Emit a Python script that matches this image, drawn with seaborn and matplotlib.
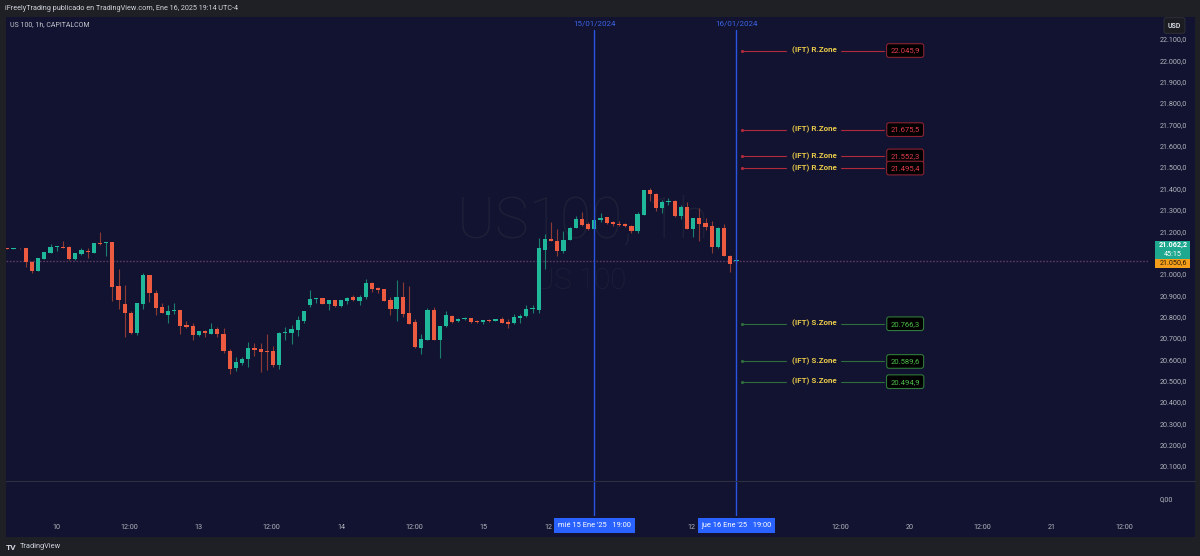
import numpy as np
import pandas as pd
import seaborn as sns
import matplotlib.pyplot as plt
import matplotlib.transforms as mtransforms
from matplotlib.patches import FancyBboxPatch
from matplotlib.lines import Line2D

# --- datos (US 100, 1h) ---
opens = [21121, 21118, 21121, 21121, 21057, 21015, 21071, 21099, 21126, 21127,
         21127, 21068, 21091, 21109, 21099, 21143, 21143, 21148, 20943, 20857,
         20817, 20725, 20857, 20993, 20910, 20843, 20809, 20826, 20829, 20760,
         20757, 20714, 20734, 20720, 20742, 20718, 20640, 20557, 20584, 20600,
         20654, 20647, 20639, 20639, 20572, 20723, 20725, 20737, 20781, 20852,
         20881, 20887, 20859, 20876, 20848, 20873, 20891, 20874, 20890, 20956,
         20935, 20929, 20876, 20835, 20890, 20817, 20773, 20653, 20690, 20831,
         20692, 20756, 20803, 20779, 20787, 20792, 20778, 20773, 20785, 20779,
         20787, 20773, 20768, 20795, 20801, 20834, 20831, 21112, 21163, 21155,
         21107, 21159, 21216, 21257, 21234, 21209, 21254, 21265, 21241, 21235,
         21234, 21226, 21201, 21276, 21393, 21375, 21310, 21335, 21343, 21272,
         21313, 21212, 21260, 21238, 21224, 21124, 21213, 21085, 21059]
highs = [21122, 21122, 21122, 21122, 21059, 21076, 21103, 21138, 21132, 21154,
         21129, 21099, 21123, 21120, 21145, 21198, 21149, 21150, 21021, 20948,
         20828, 20864, 21002, 20995, 20924, 20862, 20854, 20865, 20831, 20781,
         20768, 20734, 20736, 20768, 20753, 20746, 20646, 20612, 20612, 20682,
         20675, 20675, 20718, 20664, 20727, 20750, 20760, 20803, 20828, 20924,
         20888, 20888, 20877, 20877, 20877, 20890, 20899, 20899, 20974, 20963,
         20940, 20931, 20893, 20971, 20963, 20943, 20787, 20718, 20842, 20843,
         20757, 20826, 20807, 20792, 20800, 20794, 20784, 20785, 20790, 20789,
         20796, 20787, 20810, 20810, 20854, 20854, 21166, 21185, 21244, 21209,
         21202, 21218, 21273, 21290, 21244, 21256, 21283, 21267, 21249, 21249,
         21240, 21228, 21291, 21395, 21400, 21377, 21346, 21354, 21345, 21322,
         21335, 21262, 21310, 21260, 21249, 21218, 21234, 21087, 21063]
lows = [21117, 21117, 21118, 21034, 21002, 21013, 21069, 21097, 21109, 21121,
        21066, 21066, 21087, 21076, 21097, 21137, 21084, 20873, 20835, 20703,
        20717, 20714, 20834, 20870, 20809, 20815, 20768, 20812, 20718, 20745,
        20690, 20711, 20703, 20719, 20706, 20631, 20531, 20546, 20571, 20562,
        20617, 20539, 20550, 20562, 20553, 20690, 20671, 20711, 20771, 20846,
        20862, 20857, 20831, 20846, 20846, 20859, 20873, 20854, 20882, 20917,
        20909, 20871, 20807, 20779, 20800, 20766, 20651, 20626, 20689, 20690,
        20607, 20753, 20771, 20775, 20782, 20771, 20768, 20765, 20775, 20777,
        20768, 20748, 20765, 20770, 20798, 20817, 20818, 21023, 21152, 21084,
        21099, 21157, 21213, 21226, 21205, 21207, 21244, 21235, 21224, 21224,
        21221, 21191, 21193, 21274, 21343, 21294, 21283, 21322, 21268, 21257,
        21210, 21174, 21155, 21205, 21099, 21120, 21083, 21010, 21058]
closes = [21118, 21121, 21119, 21057, 21015, 21074, 21101, 21127, 21129, 21123,
          21068, 21098, 21112, 21101, 21143, 21138, 21148, 20940, 20878, 20815,
          20725, 20862, 20993, 20909, 20840, 20818, 20828, 20829, 20756, 20753,
          20714, 20732, 20723, 20742, 20717, 20637, 20556, 20587, 20601, 20654,
          20643, 20634, 20634, 20572, 20725, 20728, 20742, 20784, 20826, 20881,
          20887, 20859, 20876, 20848, 20876, 20889, 20876, 20892, 20957, 20929,
          20926, 20873, 20834, 20890, 20812, 20767, 20656, 20696, 20831, 20692,
          20756, 20809, 20776, 20790, 20795, 20773, 20773, 20784, 20779, 20787,
          20770, 20767, 20796, 20804, 20835, 20837, 21120, 21163, 21154, 21107,
          21159, 21216, 21257, 21229, 21209, 21254, 21260, 21237, 21234, 21229,
          21224, 21201, 21280, 21393, 21374, 21310, 21335, 21343, 21272, 21313,
          21212, 21260, 21234, 21219, 21124, 21213, 21084, 21046, 21062]

r_zones = [22045.9, 21675.5, 21552.3, 21495.4]
s_zones = [20766.3, 20589.6, 20494.9]
last_price = 21062.2
prev_price = 21050.6
countdown = "45:15"
price_ticks = list(range(20100, 22101, 100))
hidden_ticks = [21100]  # tapado por la etiqueta de precio
# "12" = etiquetas 12:00 tapadas en parte por las cajas azules
time_tick_pos = [8, 19.8, 31, 42.8, 54, 65.8, 77, 87.6, 110.7, 134.8, 146, 157.8, 169, 180.8]
time_tick_lbl = ["10", "12:00", "13", "12:00", "14", "12:00", "15", "12",
                 "12", "12:00", "20", "12:00", "21", "12:00"]
marker_bars = [95, 118]
marker_dates = ["15/01/2024", "16/01/2024"]
marker_times = ["mié 15 Ene '25   19:00", "jue 16 Ene '25   19:00"]

NAVY = '#121330'
FRAME = '#1f2026'
TXT = '#b2b5be'
GREEN, RED = '#1fb89a', '#ec5a40'
GREEN_W, RED_W = '#1a7f6d', '#8e3a34'
BLUE = '#2a55e0'
YELLOW = '#e6c84a'

sns.set_theme(style='dark', rc={'axes.facecolor': NAVY, 'figure.facecolor': FRAME,
                                'axes.grid': False})
plt.rcParams['font.family'] = ['Roboto', 'DejaVu Sans']


def fmt(v, nd=1):
    s = f"{v:,.{nd}f}"
    return s.replace(",", "X").replace(".", ",").replace("X", ".")


df = pd.DataFrame({'o': opens, 'h': highs, 'l': lows, 'c': closes})
df['bar'] = np.arange(len(df))
df['up'] = df['c'] >= df['o']

W, H = 1200, 556
fig = plt.figure(figsize=(12, 5.56), dpi=100)
fig.patch.set_facecolor(FRAME)

bg = fig.add_axes([6 / W, 1 - 537 / H, 1189 / W, 520 / H])
bg.set_facecolor(NAVY)
bg.set_xticks([])
bg.set_yticks([])
for s in bg.spines.values():
    s.set_visible(False)
bg.set_zorder(-1)

ax = fig.add_axes([6 / W, 1 - 481 / H, 1142 / W, 464 / H])
ax2 = fig.add_axes([6 / W, 1 - 516 / H, 1142 / W, 35 / H], sharex=ax)
for a in (ax, ax2):
    a.set_facecolor('none')
    for s in a.spines.values():
        s.set_visible(False)
    a.grid(False)

# velas
ax.vlines(df['bar'], df['l'], df['h'], colors=np.where(df['up'], GREEN_W, RED_W),
          linewidth=0.8, zorder=2)
height = (df['c'] - df['o']).abs().clip(lower=4)
bottom = df[['o', 'c']].min(axis=1)
ax.bar(df['bar'], height, bottom=bottom, width=0.68,
       color=np.where(df['up'], GREEN, RED), linewidth=0, zorder=3)

ax.set_xlim(-0.21, 184.6)
ax.set_ylim(20029.7, 22203)

# marca de agua
ax.text(0.505, 0.558, "US100, 1h", transform=ax.transAxes, ha='center', va='center',
        fontsize=41, color='#1e2038', fontweight='light', zorder=0)
ax.text(0.5035, 0.431, "US 100", transform=ax.transAxes, ha='center', va='center',
        fontsize=21, color='#1e2038', fontweight='light', zorder=0)

# linea de precio actual
ax.axhline(last_price, color='#5e3a66', linestyle=(0, (1.2, 1.2)), linewidth=1.0, zorder=1)

# lineas verticales
for b, d in zip(marker_bars, marker_dates):
    ax.axvline(b, ymin=0, ymax=0.972, color=BLUE, linewidth=1, zorder=4)
    ax2.axvline(b, color=BLUE, linewidth=1, zorder=4)
    ax.text(b, 0.987, d, transform=mtransforms.blended_transform_factory(ax.transData, ax.transAxes),
            ha='center', va='center', fontsize=5.8, color='#3a64e6')


# zonas
def draw_zone(level, label, line_c, edge_c, txt_c):
    sns.scatterplot(x=[118.9], y=[level], ax=ax, color=line_c, s=5, linewidth=0,
                    zorder=5, legend=False)
    ax.plot([118.9, 126.0], [level, level], color=line_c, linewidth=0.8, zorder=5)
    ax.plot([134.9, 141.9], [level, level], color=line_c, linewidth=0.8, zorder=5)
    ax.text(130.6, level, label, ha='center', va='center', fontsize=5.8,
            fontweight='bold', color=YELLOW, zorder=6)
    ax.text(145.3, level, fmt(level), ha='center', va='center', fontsize=5.5,
            color=txt_c, zorder=6,
            bbox=dict(boxstyle='round,pad=0.5,rounding_size=0.3', fc='black',
                      ec=edge_c, lw=0.8))


for lv in r_zones:
    draw_zone(lv, "(IFT) R.Zone", '#b02a3c', '#8a2233', '#e23d4c')
for lv in s_zones:
    draw_zone(lv, "(IFT) S.Zone", '#2f6e3c', '#2f7a3a', '#4cbf4a')

# eje de precios
ax.set_yticks(price_ticks)
ax.set_yticklabels(["" if p in hidden_ticks else fmt(p) for p in price_ticks])
ax.tick_params(axis='y', left=False, right=False, labelleft=False, labelright=True,
               length=0, pad=8.6, labelsize=5.2, labelcolor=TXT)
ax.tick_params(axis='x', bottom=False, labelbottom=False)

blend = mtransforms.blended_transform_factory(ax.transAxes, ax.transData)
ax.add_patch(FancyBboxPatch((1.0065, prev_price + 21), 0.0305, 84,
                            boxstyle='square,pad=0', transform=blend, fc='#1ea88f',
                            ec='none', clip_on=False, zorder=7))
ax.add_patch(FancyBboxPatch((1.0065, prev_price - 21), 0.0305, 42,
                            boxstyle='square,pad=0', transform=blend, fc='#f59e1b',
                            ec='none', clip_on=False, zorder=7))
ax.text(1.022, prev_price + 84, fmt(last_price), transform=blend, ha='center', va='center',
        fontsize=5.2, color='white', fontweight='bold', zorder=8, clip_on=False)
ax.text(1.022, prev_price + 42, countdown, transform=blend, ha='center', va='center',
        fontsize=5.2, color='white', zorder=8, clip_on=False)
ax.text(1.022, prev_price, fmt(prev_price), transform=blend, ha='center', va='center',
        fontsize=5.2, color='#2a1a05', zorder=8, clip_on=False)

# panel inferior
ax2.set_ylim(-1, 1)
ax2.set_yticks([0])
ax2.set_yticklabels(["0,00"])
ax2.tick_params(axis='y', left=False, right=False, labelleft=False, labelright=True,
                length=0, pad=8.6, labelsize=5.2, labelcolor=TXT)
ax2.set_xticks(time_tick_pos)
ax2.set_xticklabels(time_tick_lbl)
ax2.tick_params(axis='x', length=0, pad=5.5, labelsize=5.2, labelcolor=TXT)
for b, t in zip(marker_bars, marker_times):
    ax2.text(b, -0.27, t, transform=mtransforms.blended_transform_factory(ax2.transData, ax2.transAxes),
             ha='center', va='center', fontsize=5.4, color='white', zorder=9, clip_on=False,
             bbox=dict(boxstyle='square,pad=0.5', fc='#2962ff', ec='none'))

fig.add_artist(Line2D([6 / W, 1195 / W], [1 - 481 / H, 1 - 481 / H], color='#2c2e42',
                      linewidth=0.8))

# textos de cabecera y pie
fig.text(5 / W, 1 - 8.5 / H, "iFreelyTrading publicado en TradingView.com, Ene 16, 2025 19:14 UTC-4",
         ha='left', va='center', fontsize=5.2, color='#d1d4dc')
fig.text(10 / W, 1 - 25 / H, "US 100, 1h, CAPITALCOM", ha='left', va='center',
         fontsize=5, color='#c3c6ce')
fig.text(1174.5 / W, 1 - 25.5 / H, "USD", ha='center', va='center', fontsize=5,
         color='#d1d4dc', fontweight='bold',
         bbox=dict(boxstyle='round,pad=0.55,rounding_size=0.3', fc='#1b1c22', ec='#2e3038', lw=0.7))
fig.text(6 / W, 1 - 547 / H, "TV", ha='left', va='center', fontsize=6, color='#d1d4dc',
         fontweight='bold')
fig.text(20 / W, 1 - 547 / H, "TradingView", ha='left', va='center', fontsize=5.3,
         color='#d1d4dc')

fig.savefig('out.png', dpi=100, facecolor=FRAME)
